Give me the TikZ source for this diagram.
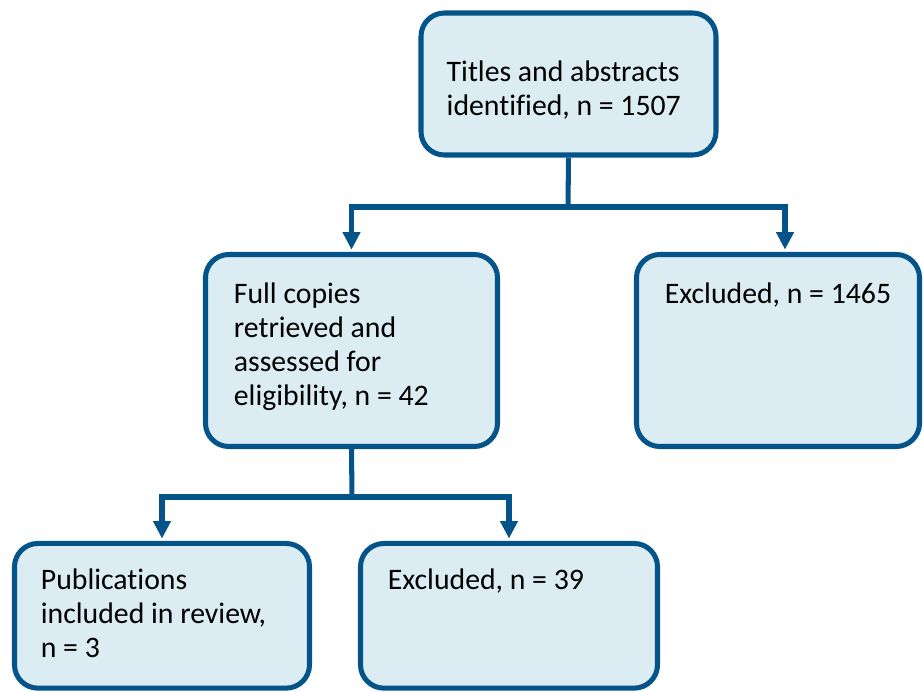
\documentclass[tikz,border=0pt]{standalone}
\usepackage{fontspec}
\setmainfont{Carlito}[Ligatures=CommonOff]
\usepackage{tikz}
\usetikzlibrary{arrows.meta, positioning}
\definecolor{flowblue}{RGB}{4,84,138}
\definecolor{boxfill}{RGB}{219,236,243}

\begin{document}
\begin{tikzpicture}[x=0.03cm, y=-0.03cm,
        stage/.style={rectangle, draw=flowblue, fill=boxfill, line width=4.3pt,
                      rounded corners=0.7cm},
        txt/.style={anchor=north west, inner sep=0pt, align=left,
                    font=\fontsize{25.4}{29}\selectfont},
        link/.style={line width=4.3pt, flowblue},
        arrow/.style={link, -{Triangle[length=15pt, width=14.5pt]}, shorten >=2pt}
    ]
        \useasboundingbox (0,0) rectangle (923,691);

        % boxes
        \node[stage, minimum width=8.85cm, minimum height=4.26cm] (titles) at (568.5,84) {};
        \node[stage, minimum width=8.76cm, minimum height=5.76cm] (full) at (351.5,350.5) {};
        \node[stage, minimum width=8.49cm, minimum height=5.76cm] (excl1) at (778,350.5) {};
        \node[stage, minimum width=8.85cm, minimum height=4.34cm] (incl) at (162,615.8) {};
        \node[stage, minimum width=8.91cm, minimum height=4.34cm] (excl2) at (509,615.8) {};

        % texts
        \node[txt] (titlestxt) at ([shift={(0.84cm,-1.5cm)}]titles.north west)
            {Titles and abstracts\\identified, n = 1507};
        \node[txt] (fulltxt) at ([shift={(0.92cm,-0.92cm)}]full.north west)
            {Full copies\\retrieved and\\assessed for\\eligibility, n = 42};
        \node[txt] (excl1txt) at ([shift={(0.92cm,-0.92cm)}]excl1.north west)
            {Excluded, n = 1465};
        \node[txt] (incltxt) at ([shift={(0.86cm,-0.83cm)}]incl.north west)
            {Publications\\included in review,\\n = 3};
        \node[txt] (excl2txt) at ([shift={(0.89cm,-0.83cm)}]excl2.north west)
            {Excluded, n = 39};

        % connectors
        \coordinate (fork1) at (568,207);
        \coordinate (fork2) at (352,497);
        \draw[link] (titles.south) -- (fork1);
        \draw[arrow] (fork1) -| (full.north);
        \draw[arrow] (fork1) -| ([xshift=0.21cm]excl1.north);
        \draw[link] (full.south) -- (fork2);
        \draw[arrow] (fork2) -| (incl.north);
        \draw[arrow] (fork2) -| (excl2.north);
    \end{tikzpicture}
\end{document}
